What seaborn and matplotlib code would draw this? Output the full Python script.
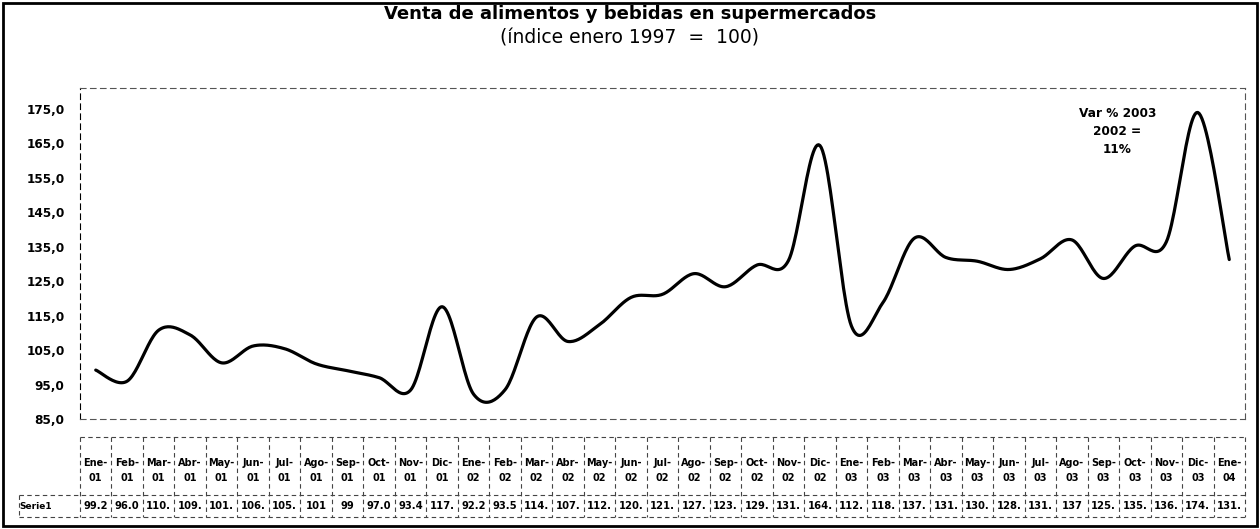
import numpy as np
import pandas as pd
import matplotlib
matplotlib.use("Agg")
import matplotlib.pyplot as plt
from matplotlib.patches import Rectangle
import seaborn as sns

# ---- data ----
months = ["Ene", "Feb", "Mar", "Abr", "May", "Jun", "Jul", "Ago", "Sep", "Oct", "Nov", "Dic"] * 3 + ["Ene"]
years = ["01"] * 12 + ["02"] * 12 + ["03"] * 12 + ["04"]
values = [99.2, 96.0, 110.8, 109.4, 101.3, 106.2, 105.4, 101.0, 99.0, 97.0, 93.4, 117.6,
          92.2, 93.5, 114.6, 107.5, 112.4, 120.3, 121.2, 127.2, 123.4, 129.7, 131.0, 164.4,
          112.0, 118.8, 137.5, 131.9, 130.8, 128.4, 131.5, 137.0, 125.8, 135.2, 136.4, 174.0, 131.3]
table_labels = ["99.2", "96.0", "110.", "109.", "101.", "106.", "105.", "101", "99", "97.0", "93.4", "117.",
                "92.2", "93.5", "114.", "107.", "112.", "120.", "121.", "127.", "123.", "129.", "131.", "164.",
                "112.", "118.", "137.", "131.", "130.", "128.", "131.", "137", "125.", "135.", "136.", "174.", "131."]
yticks = [85, 95, 105, 115, 125, 135, 145, 155, 165, 175]
series_name = "Serie1"
title = "Venta de alimentos y bebidas en supermercados"
subtitle = "(índice enero 1997  =  100)"
note = "Var % 2003\n2002 =\n11%"

# ---- smoothed (Excel-like Catmull-Rom / Bezier) curve ----
def smooth(xs, ys, n=25):
    xs = np.asarray(xs, float); ys = np.asarray(ys, float)
    px = np.concatenate([[xs[0]], xs, [xs[-1]]])
    py = np.concatenate([[ys[0]], ys, [ys[-1]]])
    ox, oy = [], []
    t = np.linspace(0, 1, n)
    for i in range(1, len(px) - 2):
        p0 = np.array([px[i - 1], py[i - 1]]); p1 = np.array([px[i], py[i]])
        p2 = np.array([px[i + 1], py[i + 1]]); p3 = np.array([px[i + 2], py[i + 2]])
        c1 = p1 + (p2 - p0) / 6.0
        c2 = p2 - (p3 - p1) / 6.0
        b = ((1 - t) ** 3)[:, None] * p1 + (3 * (1 - t) ** 2 * t)[:, None] * c1 + \
            (3 * (1 - t) * t ** 2)[:, None] * c2 + (t ** 3)[:, None] * p2
        if i > 1:
            b = b[1:]
        ox.extend(b[:, 0]); oy.extend(b[:, 1])
    return np.array(ox), np.array(oy)

x = np.arange(len(values))
sx, sy = smooth(x, values)
df = pd.DataFrame({"x": sx, "y": sy})

sns.set_theme(style="white")
plt.rcParams["font.family"] = ["DejaVu Sans"]
plt.rcParams["text.color"] = "black"
plt.rcParams["ytick.color"] = "black"
plt.rcParams["ytick.labelcolor"] = "black"

fig = plt.figure(figsize=(12.6, 5.29), dpi=100)
ax = fig.add_axes([80 / 1260, (529 - 419) / 529, (1245 - 80) / 1260, (419 - 88) / 529])

sns.lineplot(data=df, x="x", y="y", ax=ax, color="black", linewidth=2.3, sort=False, estimator=None)

ax.set_xlim(-0.5, len(values) - 0.5)
ax.set_ylim(85, 181.1)
ax.set_yticks(yticks)
ax.set_yticklabels([f"{v:.1f}".replace(".", ",") for v in yticks], fontsize=8.7, fontweight="bold",
                   color="black")
ax.set_xticks([])
ax.set_xlabel(""); ax.set_ylabel("")
ax.tick_params(axis="y", length=3, width=1, color="black", direction="out", pad=8)
for s in ax.spines.values():
    s.set_linestyle((0, (5, 4)))
    s.set_linewidth(0.8)
    s.set_color("#555555")
ax.spines["left"].set_color("black")

# title
fig.text(0.5, 1 - 14 / 529, title, ha="center", va="center", fontsize=13, fontweight="bold")
fig.text(0.5, 1 - 38 / 529, subtitle, ha="center", va="center", fontsize=13.5)

# annotation
ax.text(32.45, 168.6, note, ha="center", va="center", fontsize=8.7, fontweight="bold", linespacing=1.5)

# data table below
tr = ax.get_xaxis_transform()
ytop, ymid, ybot = -0.054, -0.2296, -0.296
n = len(values)
xleft = -2.45
lk = dict(transform=tr, clip_on=False, color="#444444", linewidth=0.8, linestyle=(0, (4, 3)))
ax.plot([-0.5, n - 0.5], [ytop, ytop], **lk)
ax.plot([xleft, n - 0.5], [ymid, ymid], **lk)
ax.plot([xleft, n - 0.5], [ybot, ybot], **lk)
for i in range(n + 1):
    ax.plot([i - 0.5, i - 0.5], [ytop, ybot], **lk)
ax.plot([xleft, xleft], [ymid, ybot], **lk)
for i in range(n):
    ax.text(i, -0.133, months[i] + "-", transform=tr, ha="center", va="center", fontsize=7, fontweight="bold")
    ax.text(i, -0.178, years[i], transform=tr, ha="center", va="center", fontsize=7, fontweight="bold")
    ax.text(i, -0.263, table_labels[i], transform=tr, ha="center", va="center", fontsize=7.2, fontweight="bold")
ax.text(-1.9, -0.263, series_name, transform=tr, ha="center", va="center", fontsize=6.5, fontweight="bold")

# outer frame
fig.patches.append(Rectangle((3 / 1260, 3 / 529), 1 - 6 / 1260, 1 - 6 / 529, transform=fig.transFigure,
                             fill=False, edgecolor="black", linewidth=2))

fig.savefig("out.png", dpi=100)
